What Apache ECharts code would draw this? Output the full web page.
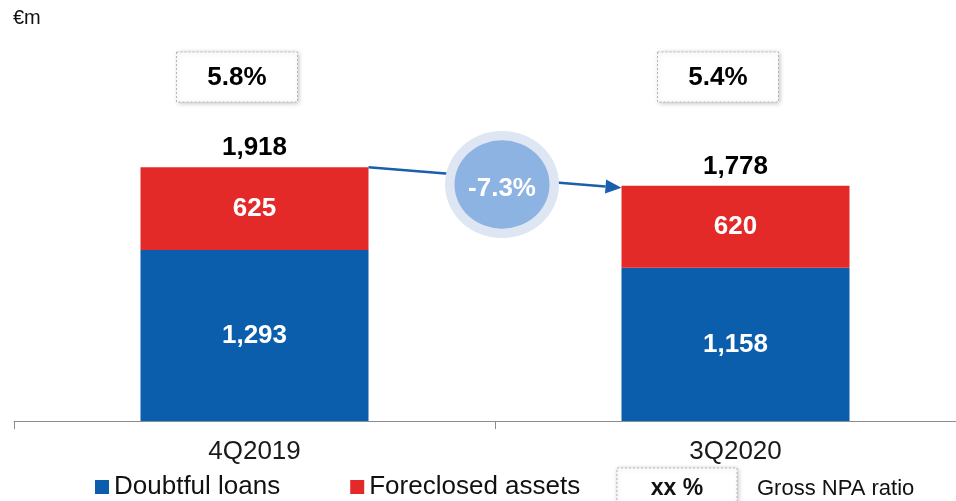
<!DOCTYPE html>
<html>
<head>
<meta charset="utf-8">
<script src="https://cdn.jsdelivr.net/npm/echarts@6/dist/echarts.min.js"></script>
<style>
  html, body { margin: 0; padding: 0; background: #fff; overflow: hidden; }
  #chart { width: 976px; height: 501px; }
</style>
</head>
<body>
<div id="chart"></div>
<script>
var categories = ['4Q2019', '3Q2020'];
var doubtfulLoans = [1293, 1158];
var foreclosedAssets = [625, 620];
var totals = [1918, 1778];
var npaRatios = ['5.8%', '5.4%'];
var changeLabel = '-7.3%';

var FONT = 'Liberation Sans, Arial, sans-serif';
var BLUE = '#0a5eab';
var RED = '#e42a28';

function fmt(v) { return v.toLocaleString('en-US'); }

var chart = echarts.init(document.getElementById('chart'));

var option = {
  animation: false,
  textStyle: { fontFamily: FONT },
  grid: { left: 14, right: 0, top: 40, bottom: 80 },
  legend: {
    data: ['Doubtful loans', 'Foreclosed assets'],
    left: 90,
    top: 469,
    icon: 'rect',
    itemWidth: 14,
    itemHeight: 14,
    itemGap: 70,
    textStyle: { fontSize: 26, color: '#111', fontFamily: FONT }
  },
  xAxis: {
    type: 'category',
    data: categories,
    axisLine: { lineStyle: { color: '#8c8c8c', width: 1 } },
    axisTick: { show: true, length: 8, lineStyle: { color: '#8c8c8c' } },
    axisLabel: { fontSize: 26, color: '#1a1a1a', margin: 18, fontFamily: FONT }
  },
  yAxis: {
    type: 'value',
    min: 0,
    max: 2880,
    show: false,
    splitLine: { show: false }
  },
  series: [
    {
      name: 'Doubtful loans',
      type: 'bar',
      stack: 'npa',
      barWidth: 228,
      data: doubtfulLoans,
      itemStyle: { color: BLUE },
      label: {
        show: true, position: 'inside', color: '#fff', fontSize: 26, fontWeight: 'bold',
        formatter: function (p) { return fmt(p.value); }
      }
    },
    {
      name: 'Foreclosed assets',
      type: 'bar',
      stack: 'npa',
      barWidth: 228,
      data: foreclosedAssets,
      itemStyle: { color: RED },
      label: {
        show: true, position: 'inside', color: '#fff', fontSize: 26, fontWeight: 'bold',
        formatter: function (p) { return fmt(p.value); }
      }
    },
    {
      name: 'total',
      type: 'bar',
      stack: 'npa',
      barWidth: 228,
      data: totals.map(function () { return 0; }),
      itemStyle: { color: 'rgba(0,0,0,0)' },
      label: {
        show: true, position: 'top', distance: 6, color: '#000', fontSize: 26, fontWeight: 'bold',
        formatter: function (p) { return fmt(totals[p.dataIndex]); }
      },
      z: 5
    }
  ]
};

chart.setOption(option);

// annotations placed from the chart's own scales
var top0 = chart.convertToPixel({ gridIndex: 0 }, [0, totals[0]]);
var top1 = chart.convertToPixel({ gridIndex: 0 }, [1, totals[1]]);
var half = 114;
var x1 = top0[0] + half, y1 = top0[1];
var x2 = top1[0] - half, y2 = top1[1] + 2;
var dx = x2 - x1, dy = y2 - y1, len = Math.sqrt(dx * dx + dy * dy);
var ux = dx / len, uy = dy / len;
var headLen = 16, headW = 7;
var bx = x2 - ux * headLen, by = y2 - uy * headLen;

var midX = (top0[0] + top1[0]) / 2 + 7;
var midY = (y1 + y2) / 2 + 7;

function ratioBox(cx, text) {
  return {
    type: 'group',
    children: [
      {
        type: 'rect',
        shape: { x: cx - 78, y: 52, width: 121, height: 50 },
        style: { fill: '#fff', stroke: '#b5b5b5', lineWidth: 1, lineDash: [2, 2],
          shadowBlur: 5, shadowColor: 'rgba(0,0,0,0.25)', shadowOffsetX: 1, shadowOffsetY: 1 }
      },
      {
        type: 'text',
        x: cx - 17.5, y: 78,
        style: { text: text, fill: '#000', font: 'bold 26px ' + FONT, textAlign: 'center', textVerticalAlign: 'middle' }
      }
    ]
  };
}

chart.setOption({
  graphic: [
    {
      type: 'text', left: 13, top: 8,
      style: { text: '€m', fill: '#111', font: '20px ' + FONT }
    },
    ratioBox(top0[0], npaRatios[0]),
    ratioBox(top1[0], npaRatios[1]),
    {
      type: 'line',
      shape: { x1: x1, y1: y1, x2: bx, y2: by },
      style: { stroke: '#1a5fae', lineWidth: 2.5 },
      z: 10
    },
    {
      type: 'polygon',
      shape: { points: [[x2, y2], [bx - uy * headW, by + ux * headW], [bx + uy * headW, by - ux * headW]] },
      style: { fill: '#1a5fae' },
      z: 10
    },
    {
      type: 'circle',
      x: midX, y: midY, scaleY: 0.94,
      shape: { cx: 0, cy: 0, r: 57 },
      style: { fill: '#dde6f2' },
      z: 11
    },
    {
      type: 'circle',
      x: midX, y: midY, scaleY: 0.93,
      shape: { cx: 0, cy: 0, r: 47.5 },
      style: { fill: '#8db3e2' },
      z: 12
    },
    {
      type: 'text',
      x: midX, y: midY + 4,
      style: { text: changeLabel, fill: '#fff', font: 'bold 26px ' + FONT, textAlign: 'center', textVerticalAlign: 'middle' },
      z: 13
    },
    {
      type: 'rect',
      shape: { x: 617, y: 468, width: 120, height: 40 },
      style: { fill: '#fff', stroke: '#b5b5b5', lineWidth: 1, lineDash: [2, 2],
        shadowBlur: 5, shadowColor: 'rgba(0,0,0,0.25)', shadowOffsetX: 1, shadowOffsetY: 1 }
    },
    {
      type: 'text', x: 677, y: 489,
      style: { text: 'xx %', fill: '#111', font: 'bold 23px ' + FONT, textAlign: 'center', textVerticalAlign: 'middle' }
    },
    {
      type: 'text', x: 757, y: 489,
      style: { text: 'Gross NPA ratio', fill: '#111', font: '22px ' + FONT, textAlign: 'left', textVerticalAlign: 'middle' }
    }
  ]
});
</script>
</body>
</html>
